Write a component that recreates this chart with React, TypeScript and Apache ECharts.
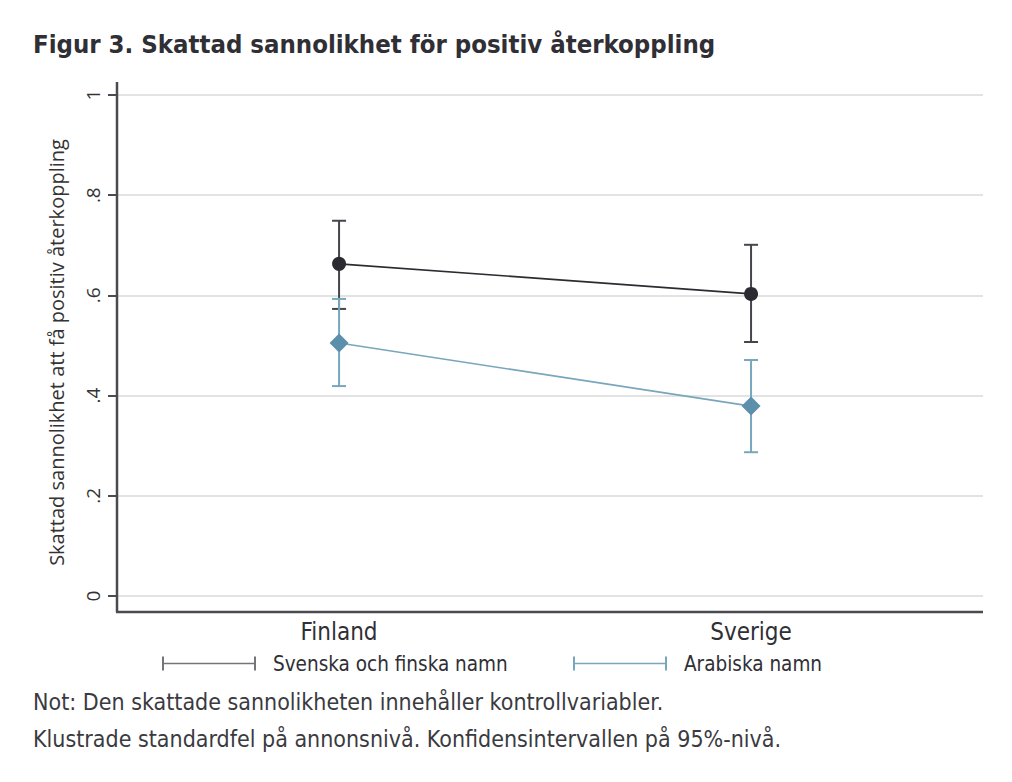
import React, { useEffect, useRef } from "react";
import * as echarts from "echarts";

const categories = ["Finland", "Sverige"];
const categoryPositions = [1, 2];
const seriesNames = ["Svenska och finska namn", "Arabiska namn"];
const svenskaEstimate = [0.663, 0.603];
const svenskaLow = [0.573, 0.507];
const svenskaHigh = [0.749, 0.701];
const arabiskaEstimate = [0.505, 0.379];
const arabiskaLow = [0.419, 0.287];
const arabiskaHigh = [0.593, 0.471];
const yTicks = [0, 0.2, 0.4, 0.6, 0.8, 1];

const titleText = "Figur 3. Skattad sannolikhet för positiv återkoppling";
const yTitle = "Skattad sannolikhet att få positiv återkoppling";
const noteLines = [
  "Not: Den skattade sannolikheten innehåller kontrollvariabler.",
  "Klustrade standardfel på annonsnivå. Konfidensintervallen på 95%-nivå.",
];

const DIN = "'Liberation Sans Narrow', 'DejaVu Sans Condensed', 'Roboto', sans-serif";
const OPEN = "'Open Sans', 'Noto Sans', sans-serif";

const DARK = "#2b2b31";
const DARK_BAR = "#45454c";
const BLUE = "#5b8fab";
const BLUE_BAR = "#78a6bd";

function errorBarSeries(name: string, low: number[], high: number[], color: string) {
  return {
    type: "custom",
    name,
    data: categoryPositions.map((x, i) => [x, low[i], high[i]]),
    encode: { x: 0, y: [1, 2] },
    z: 2,
    renderItem: (params: any, api: any) => {
      const x = api.value(0);
      const lo = api.coord([x, api.value(1)]);
      const hi = api.coord([x, api.value(2)]);
      const cap = 7;
      const style = { stroke: color, lineWidth: 2 };
      return {
        type: "group",
        children: [
          { type: "line", shape: { x1: lo[0], y1: lo[1], x2: hi[0], y2: hi[1] }, style },
          { type: "line", shape: { x1: lo[0] - cap, y1: lo[1], x2: lo[0] + cap, y2: lo[1] }, style },
          { type: "line", shape: { x1: hi[0] - cap, y1: hi[1], x2: hi[0] + cap, y2: hi[1] }, style },
        ],
      };
    },
  };
}

const legendIcon = "path://M0,0H2V14H0Z M2,6.3H92V7.7H2Z M92,0H94V14H92Z";

export default function App() {
  const ref = useRef<HTMLDivElement>(null);
  useEffect(() => {
    if (!ref.current) return;
    const chart = echarts.init(ref.current, null, { renderer: "svg" });
    const option: any = {
      animation: false,
      backgroundColor: "#ffffff",
      title: {
        text: titleText,
        left: 28,
        top: 26,
        textStyle: { fontFamily: DIN, fontWeight: "bold", fontSize: 25.5, color: "#2f2f35" },
      },
      grid: { left: 117, right: 29, top: 95, bottom: 186, containLabel: false },
      xAxis: {
        type: "value",
        min: 0.461,
        max: 2.563,
        axisLine: { show: false },
        axisTick: { show: false },
        splitLine: { show: false },
        axisLabel: {
          customValues: categoryPositions,
          formatter: (v: number) => {
            const i = categoryPositions.indexOf(v);
            return i >= 0 ? categories[i] : "";
          },
          margin: 24,
          fontFamily: DIN,
          fontSize: 24,
          color: "#2f2f35",
        },
      },
      yAxis: {
        type: "value",
        min: 0,
        max: 1,
        interval: 0.2,
        name: yTitle,
        nameLocation: "middle",
        nameRotate: 90,
        nameGap: 51,
        nameTextStyle: { fontFamily: OPEN, fontSize: 20, color: "#333", padding: [0, 14, 0, 0] },
        axisLine: { show: false },
        axisTick: { show: true, length: 9, lineStyle: { color: "#4a4a50", width: 2 } },
        splitLine: { show: true, lineStyle: { color: "#e3e3e3", width: 2 } },
        axisLabel: {
          rotate: 90,
          margin: 15,
          fontFamily: OPEN,
          fontSize: 19,
          color: "#333",
          formatter: (v: number) => {
            const t = yTicks.find((k) => Math.abs(k - v) < 1e-6);
            if (t === undefined) return "";
            if (t === 0) return "0";
            if (t === 1) return "1";
            return String(t).replace(/^0/, "");
          },
        },
      },
      legend: [
        {
          left: 157,
          top: 648,
          itemWidth: 94,
          itemHeight: 14,
          textStyle: { fontFamily: DIN, fontSize: 20.5, color: "#2f2f35", padding: [0, 0, 0, 12] },
          data: [{ name: seriesNames[0], icon: legendIcon, itemStyle: { color: "#74747a", borderWidth: 0 } }],
          selectedMode: false,
        },
        {
          left: 568,
          top: 648,
          itemWidth: 94,
          itemHeight: 14,
          textStyle: { fontFamily: DIN, fontSize: 20.5, color: "#2f2f35", padding: [0, 0, 0, 12] },
          data: [{ name: seriesNames[1], icon: legendIcon, itemStyle: { color: BLUE_BAR, borderWidth: 0 } }],
          selectedMode: false,
        },
      ],
      graphic: [
        {
          type: "line",
          shape: { x1: 117, y1: 82, x2: 117, y2: 612 },
          style: { stroke: "#4a4a50", lineWidth: 2.5 },
          z: 10,
        },
        {
          type: "line",
          shape: { x1: 116, y1: 612, x2: 983, y2: 612 },
          style: { stroke: "#4a4a50", lineWidth: 2.5 },
          z: 10,
        },
        {
          type: "text",
          left: 33,
          top: 690,
          style: { text: noteLines[0], fontFamily: DIN, fontSize: 23, fill: "#3a3a40" },
        },
        {
          type: "text",
          left: 33,
          top: 727,
          style: { text: noteLines[1], fontFamily: DIN, fontSize: 23, fill: "#3a3a40" },
        },
      ],
      series: [
        errorBarSeries(seriesNames[0], svenskaLow, svenskaHigh, DARK_BAR),
        errorBarSeries(seriesNames[1], arabiskaLow, arabiskaHigh, BLUE_BAR),
        {
          type: "line",
          name: seriesNames[0],
          data: categoryPositions.map((x, i) => [x, svenskaEstimate[i]]),
          symbol: "circle",
          symbolSize: 14,
          itemStyle: { color: DARK },
          lineStyle: { color: DARK, width: 1.6 },
          z: 5,
        },
        {
          type: "line",
          name: seriesNames[1],
          data: categoryPositions.map((x, i) => [x, arabiskaEstimate[i]]),
          symbol: "diamond",
          symbolSize: [19, 19],
          itemStyle: { color: BLUE },
          lineStyle: { color: BLUE_BAR, width: 1.6 },
          z: 5,
        },
      ],
    };
    chart.setOption(option);
    return () => chart.dispose();
  }, []);
  return (
    <div
      ref={ref}
      style={{ position: "absolute", left: 0, top: 0, width: 1012, height: 782 }}
    />
  );
}
